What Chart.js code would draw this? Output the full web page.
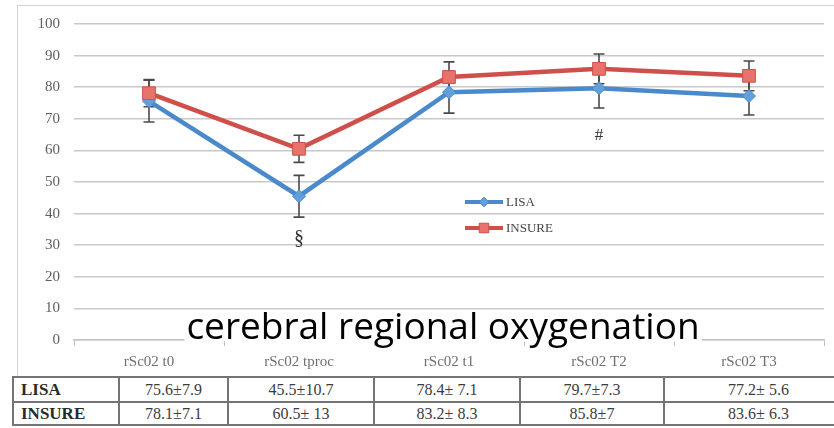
<!DOCTYPE html>
<html>
<head>
<meta charset="utf-8">
<script src="https://cdn.jsdelivr.net/npm/chart.js@4.4.1/dist/chart.umd.min.js"></script>
<style>
  html, body { margin: 0; padding: 0; background: #fff; }
  body { width: 834px; height: 428px; position: relative; overflow: hidden; }
  #chartBox { position: absolute; left: 0; top: 0; width: 834px; height: 376px; }
  #stats {
    position: absolute; left: 12px; top: 376px; width: 840px;
    border-collapse: collapse; table-layout: fixed;
    font-family: 'Liberation Serif', 'DejaVu Serif', serif; font-size: 16px; color: #3c3c3c;
  }
  #stats td { border: 2px solid #747474; text-align: center; padding: 0; line-height: 18px; white-space: pre; }
  #stats tr.first td { height: 23px; }
  #stats tr.second td { height: 21px; }
  #stats td.group { text-align: left; padding-left: 7px; font-weight: bold; color: #2a2a2a; font-size: 17px; }
</style>
</head>
<body>
<div id="chartBox"><canvas id="chart"></canvas></div>
<table id="stats"><colgroup id="cols"></colgroup><tbody id="statsBody"></tbody></table>
<script>
// Time points of the measurement
const categories = ['rSc02 t0', 'rSc02 tproc', 'rSc02 t1', 'rSc02 T2', 'rSc02 T3'];

// Mean cerebral regional oxygenation (%) per group
const lisaMean   = [75.6, 45.5, 78.4, 79.7, 77.2];
const insureMean = [78.1, 60.5, 83.2, 85.8, 83.6];

// Standard deviations as printed in the summary table
const lisaSD   = ['7.9', '10.7', ' 7.1', '7.3', ' 5.6'];
const insureSD = ['7.1', ' 13', ' 8.3', '7', ' 6.3'];

// Half-length of the error bars on the plot
const lisaErrBar   = [6.6, 6.6, 6.6, 6.3, 6.0];
const insureErrBar = [4.3, 4.3, 4.8, 4.7, 4.7];

// Y axis ticks
const yTicks = [0, 10, 20, 30, 40, 50, 60, 70, 80, 90, 100];

// Significance marks under the LISA series
const sigMarks = ['', '§', '', '#', ''];

const groups = ['LISA', 'INSURE'];

const LISA_LINE = '#4a89cb', LISA_FILL = '#62a0dc';
const INSURE_LINE = '#cf4f4b', INSURE_FILL = '#e8736c';
const SERIF = "'Liberation Serif', 'DejaVu Serif', serif";

// ---- summary table ----
(function buildTable() {
  const cols = document.getElementById('cols');
  [106, 109, 146, 146, 144, 189].forEach(w => {
    const c = document.createElement('col'); c.style.width = w + 'px'; cols.appendChild(c);
  });
  const body = document.getElementById('statsBody');
  const rows = [[groups[0], lisaMean, lisaSD, 'first'], [groups[1], insureMean, insureSD, 'second']];
  rows.forEach(([name, means, sds, cls]) => {
    const tr = document.createElement('tr'); tr.className = cls;
    const th = document.createElement('td'); th.className = 'group'; th.textContent = name; tr.appendChild(th);
    means.forEach((m, i) => {
      const td = document.createElement('td');
      td.textContent = m.toFixed(1) + '±' + sds[i];
      tr.appendChild(td);
    });
    body.appendChild(tr);
  });
})();

// ---- plugins ----
const framePlugin = {
  id: 'frame',
  beforeDraw(chart) {
    const ctx = chart.ctx;
    ctx.save();
    ctx.strokeStyle = '#d2d2d2';
    ctx.lineWidth = 1;
    ctx.strokeRect(17.5, 5.5, chart.width, chart.height);
    ctx.restore();
  }
};

const errorBarPlugin = {
  id: 'errorBars',
  beforeDatasetsDraw(chart) {
    const ctx = chart.ctx, y = chart.scales.y;
    ctx.save();
    ctx.strokeStyle = '#4a4a4a';
    ctx.lineWidth = 1.6;
    chart.data.datasets.forEach((ds, di) => {
      const meta = chart.getDatasetMeta(di);
      meta.data.forEach((pt, i) => {
        const v = ds.data[i], e = ds.errBar[i];
        const top = y.getPixelForValue(v + e), bot = y.getPixelForValue(v - e);
        ctx.beginPath();
        ctx.moveTo(pt.x, top); ctx.lineTo(pt.x, bot);
        ctx.moveTo(pt.x - 5.5, top); ctx.lineTo(pt.x + 5.5, top);
        ctx.moveTo(pt.x - 5.5, bot); ctx.lineTo(pt.x + 5.5, bot);
        ctx.stroke();
      });
    });
    ctx.restore();
  }
};

const sigPlugin = {
  id: 'sigMarks',
  afterDatasetsDraw(chart) {
    const ctx = chart.ctx, y = chart.scales.y;
    const meta = chart.getDatasetMeta(0);
    ctx.save();
    ctx.fillStyle = '#333';
    ctx.textAlign = 'center';
    ctx.textBaseline = 'middle';
    sigMarks.forEach((m, i) => {
      if (!m) return;
      const low = y.getPixelForValue(lisaMean[i] - lisaErrBar[i]);
      ctx.font = (m === '§' ? '20px ' : '17px ') + SERIF;
      ctx.fillText(m, meta.data[i].x, low + (m === '§' ? 22 : 27));
    });
    ctx.restore();
  }
};

const legendPlugin = {
  id: 'inlineLegend',
  afterDatasetsDraw(chart) {
    const ctx = chart.ctx, area = chart.chartArea;
    const x0 = area.left + 391, x1 = x0 + 38, cx = (x0 + x1) / 2;
    ctx.save();
    chart.data.datasets.forEach((ds, i) => {
      const yy = area.top + 178 + i * 26;
      ctx.strokeStyle = ds.borderColor; ctx.lineWidth = 4;
      ctx.beginPath(); ctx.moveTo(x0, yy); ctx.lineTo(x1, yy); ctx.stroke();
      ctx.fillStyle = ds.pointBackgroundColor; ctx.strokeStyle = ds.borderColor;
      ctx.beginPath();
      const r = ds.pointRadius * 0.75;
      if (ds.pointStyle === 'rect') {
        const s = r * Math.SQRT1_2;
        ctx.rect(cx - s, yy - s, 2 * s, 2 * s);
      } else {
        ctx.moveTo(cx - r, yy); ctx.lineTo(cx, yy - r);
        ctx.lineTo(cx + r, yy); ctx.lineTo(cx, yy + r); ctx.closePath();
      }
      ctx.fill(); ctx.lineWidth = 1; ctx.stroke();
      ctx.fillStyle = '#444';
      ctx.font = '13px ' + SERIF;
      ctx.textAlign = 'left'; ctx.textBaseline = 'middle';
      ctx.fillText(ds.label, x1 + 3, yy + 1);
    });
    ctx.restore();
  }
};

const captionPlugin = {
  id: 'caption',
  afterDraw(chart) {
    const ctx = chart.ctx;
    const text = 'cerebral regional oxygenation';
    ctx.save();
    ctx.font = "37px 'Open Sans', sans-serif";
    const w = ctx.measureText(text).width;
    const cx = 443;
    ctx.fillStyle = '#fff';
    ctx.fillRect(cx - w / 2 - 2, 312, w + 4, 29.5);
    ctx.fillStyle = '#000';
    ctx.textAlign = 'center';
    ctx.textBaseline = 'alphabetic';
    ctx.fillText(text, cx, 339);
    ctx.restore();
  }
};

// ---- chart ----
new Chart(document.getElementById('chart'), {
  type: 'line',
  data: {
    labels: categories,
    datasets: [
      {
        label: groups[0], data: lisaMean, errBar: lisaErrBar, order: 1,
        borderColor: LISA_LINE, borderWidth: 4.5, tension: 0,
        pointStyle: 'rectRot', pointRadius: 6.5, pointBackgroundColor: LISA_FILL,
        pointBorderColor: LISA_LINE, pointBorderWidth: 1
      },
      {
        label: groups[1], data: insureMean, errBar: insureErrBar, order: 0,
        borderColor: INSURE_LINE, borderWidth: 4.5, tension: 0,
        pointStyle: 'rect', pointRadius: 9, pointBackgroundColor: INSURE_FILL,
        pointBorderColor: INSURE_LINE, pointBorderWidth: 1
      }
    ]
  },
  options: {
    responsive: true,
    maintainAspectRatio: false,
    animation: false,
    layout: { padding: { top: 24, left: 0, right: 0, bottom: 0 } },
    plugins: { legend: { display: false }, tooltip: { enabled: false } },
    scales: {
      x: {
        offset: true,
        grid: { offset: true, drawOnChartArea: false, drawTicks: true, tickLength: 6, color: '#bdbdbd' },
        border: { display: true, color: '#c4c4c4', width: 1.5 },
        ticks: { color: '#6f6f6f', font: { family: SERIF, size: 15 }, padding: 7, maxRotation: 0 },
        afterFit(scale) { scale.height = 36; }
      },
      y: {
        min: 0, max: 100,
        afterBuildTicks(scale) { scale.ticks = yTicks.map(v => ({ value: v })); },
        grid: { color: '#c8c8c8', lineWidth: 1.5, drawTicks: false },
        border: { display: false },
        ticks: { color: '#5e5e5e', font: { family: SERIF, size: 15 }, padding: 14 },
        afterFit(scale) { scale.width = 74; }
      }
    }
  },
  plugins: [framePlugin, errorBarPlugin, sigPlugin, legendPlugin, captionPlugin]
});
</script>
</body>
</html>
